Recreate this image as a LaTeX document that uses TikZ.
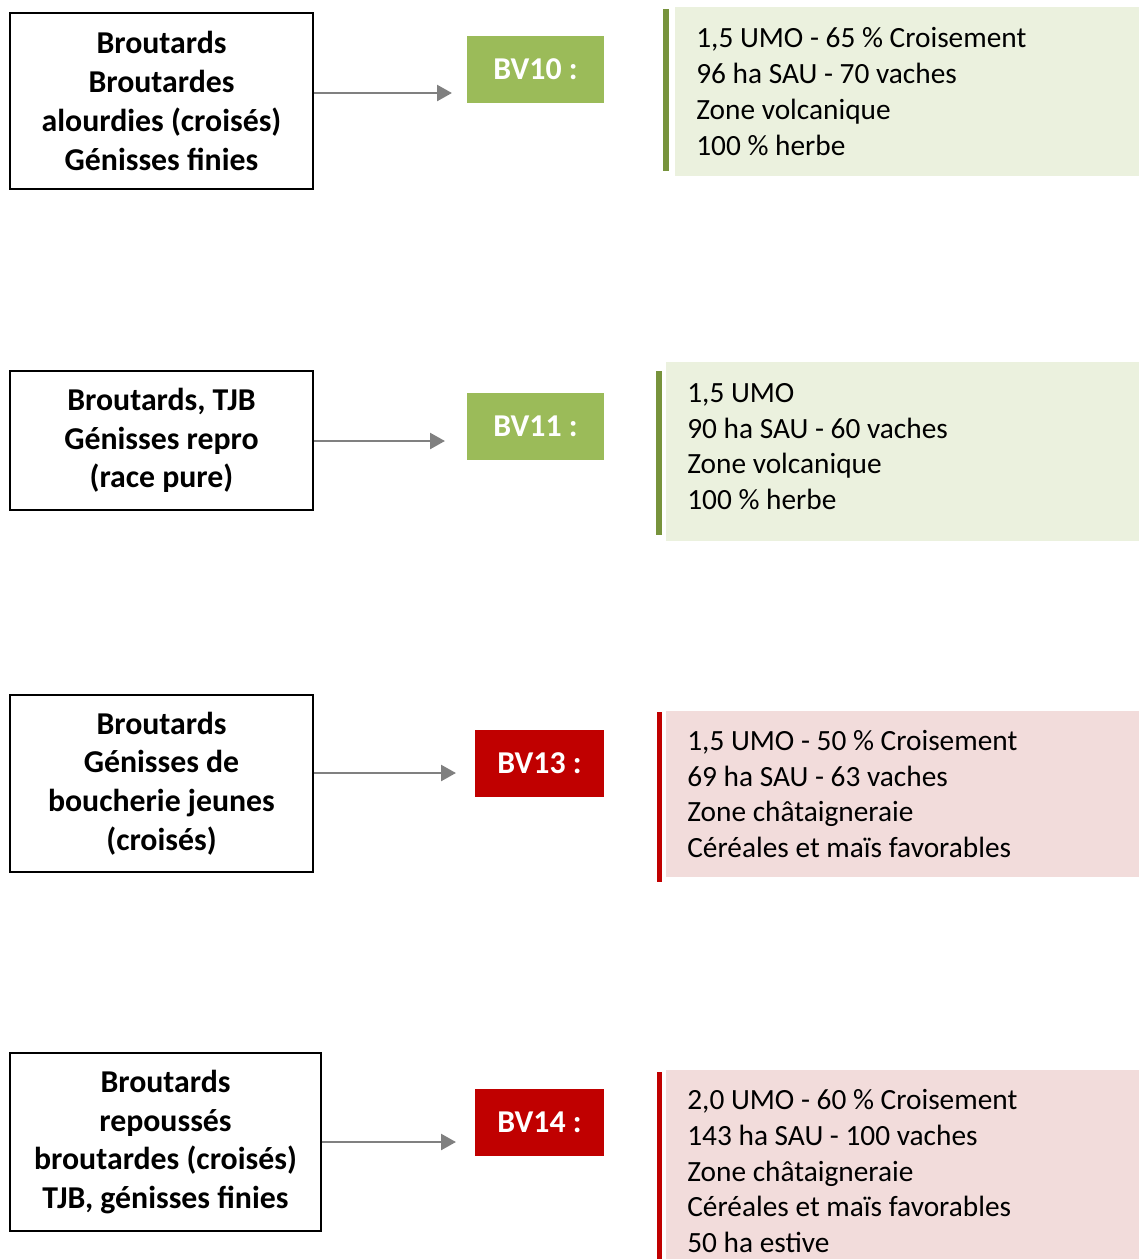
\documentclass[tikz,border=0pt]{standalone}
\usepackage{fontspec}
\setmainfont{Carlito}
\definecolor{bvgreen}{HTML}{9BBB59}
\definecolor{bargreen}{HTML}{77933C}
\definecolor{fillgreen}{HTML}{EBF1DE}
\definecolor{bvred}{HTML}{C00000}
\definecolor{fillred}{HTML}{F2DCDB}
\definecolor{arrgray}{HTML}{808080}
\usetikzlibrary{arrows.meta}
\newcommand{\pxu}{0.02cm}

\begin{document}
\begin{tikzpicture}[x=0.02cm,y=-0.02cm,
  typebox/.style={draw=black,line width=1.1pt,align=center,inner sep=0pt,
               font=\fontsize{18.1}{22.1}\selectfont\bfseries},
  bvbox/.style={text=white,inner sep=0pt,minimum height=67*\pxu,
               font=\fontsize{18.1}{22.1}\selectfont\bfseries},
  infobox/.style={anchor=west,align=flush left,inner xsep=21*\pxu,inner ysep=0pt,
               text width=431*\pxu,font=\fontsize{16.7}{20.4}\selectfont},
  arr/.style={-{Triangle[length=8.5pt,width=9pt]},line width=1.6pt,arrgray}]

  \useasboundingbox (0,0) rectangle (1139,1259);

  \node[typebox,minimum width=303*\pxu,minimum height=176*\pxu] (B10) at (161.5,101)
    {Broutards\\Broutardes\\alourdies (croisés)\\Génisses finies};
  \node[typebox,minimum width=303*\pxu,minimum height=139*\pxu] (B11) at (161.5,440.5)
    {Broutards, TJB\\Génisses repro\\(race pure)};
  \node[typebox,minimum width=303*\pxu,minimum height=177*\pxu] (B13) at (161.5,783.5)
    {Broutards\\Génisses de\\boucherie jeunes\\(croisés)};
  \node[typebox,minimum width=311*\pxu,minimum height=178*\pxu] (B14) at (165.5,1142)
    {Broutards\\repoussés\\broutardes (croisés)\\TJB, génisses finies};

  \node[bvbox,fill=bvgreen,minimum width=137*\pxu] (BV10) at (535.5,69.5)  {BV10 :};
  \node[bvbox,fill=bvgreen,minimum width=137*\pxu] (BV11) at (535.5,426.5) {BV11 :};
  \node[bvbox,fill=bvred,minimum width=129*\pxu]   (BV13) at (539.5,763.5) {BV13 :};
  \node[bvbox,fill=bvred,minimum width=129*\pxu]   (BV14) at (539.5,1122.5){BV14 :};

  \coordinate (E10) at (452,93);
  \coordinate (E11) at (445,441);
  \coordinate (E13) at (456,773);
  \coordinate (E14) at (456,1142);
  \draw[arr] (B10.east |- E10) -- (E10);
  \draw[arr] (B11.east |- E11) -- (E11);
  \draw[arr] (B13.east |- E13) -- (E13);
  \draw[arr] (B14.east |- E14) -- (E14);

  % side bars
  \fill[bargreen] (663,9) rectangle (669,171);
  \fill[bargreen] (656,371) rectangle (662,535);
  \fill[bvred] (657,712) rectangle (662,882);
  \fill[bvred] (657,1072) rectangle (662,1275);

  \node[infobox,fill=fillgreen,text width=422*\pxu,minimum height=169*\pxu] (I10) at (675,91.5)
    {1,5 UMO - 65 \% Croisement\\96 ha SAU - 70 vaches\\Zone volcanique\\100 \% herbe};
  \node[infobox,fill=fillgreen,minimum height=179*\pxu] (I11) at (666,451.5)
    {1,5 UMO\\90 ha SAU - 60 vaches\\Zone volcanique\\100 \% herbe\\[-14.7pt]\mbox{}};
  \node[infobox,fill=fillred,minimum height=166*\pxu] (I13) at (666,794)
    {1,5 UMO - 50 \% Croisement\\69 ha SAU - 63 vaches\\Zone châtaigneraie\\Céréales et maïs favorables};
  \node[infobox,fill=fillred,minimum height=202*\pxu] (I14) at (666,1171)
    {2,0 UMO - 60 \% Croisement\\143 ha SAU - 100 vaches\\Zone châtaigneraie\\Céréales et maïs favorables\\50 ha estive};
\end{tikzpicture}
\end{document}
